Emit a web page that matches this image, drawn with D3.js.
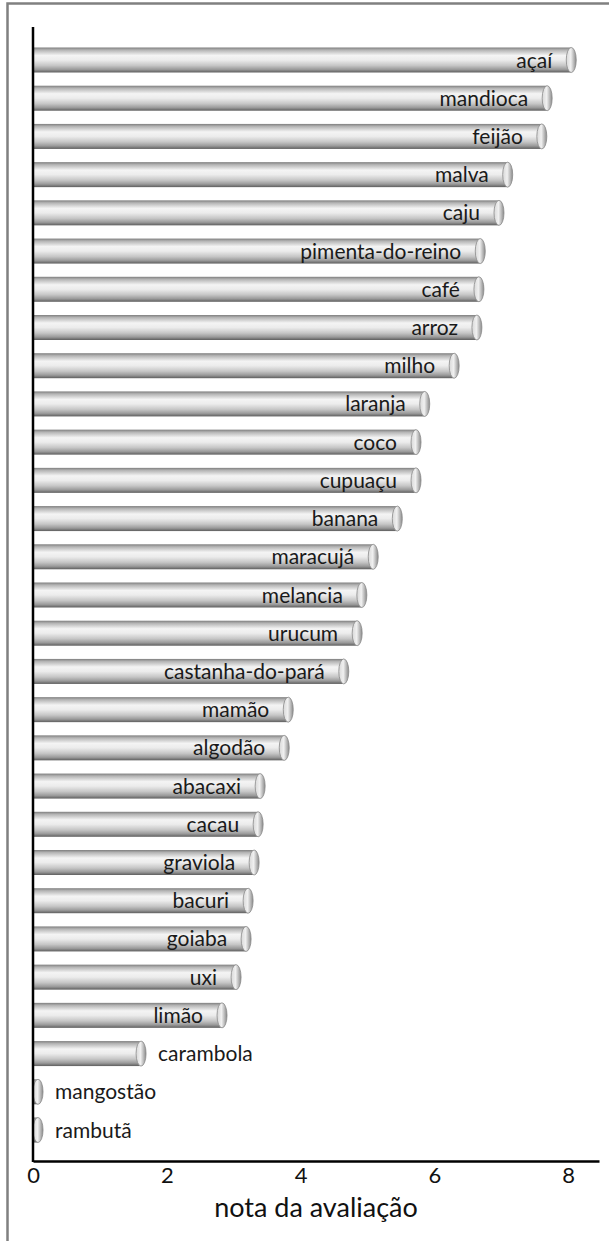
<!DOCTYPE html>
<html>
<head>
<meta charset="utf-8">
<script src="https://cdn.jsdelivr.net/npm/d3@7"></script>
<style>
  body { margin: 0; background: #fff; }
  svg { display: block; }
</style>
</head>
<body>
<div id="chart"></div>
<script>
// Categories, top to bottom
const crops = ["açaí", "mandioca", "feijão", "malva", "caju", "pimenta-do-reino", "café", "arroz",
  "milho", "laranja", "coco", "cupuaçu", "banana", "maracujá", "melancia", "urucum",
  "castanha-do-pará", "mamão", "algodão", "abacaxi", "cacau", "graviola", "bacuri", "goiaba",
  "uxi", "limão", "carambola", "mangostão", "rambutã"];

// Evaluation score for each crop
const scores = [8.12, 7.76, 7.68, 7.17, 7.04, 6.76, 6.74, 6.71,
  6.37, 5.93, 5.80, 5.80, 5.52, 5.16, 4.99, 4.92,
  4.72, 3.89, 3.83, 3.47, 3.44, 3.38, 3.29, 3.26,
  3.11, 2.90, 1.69, 0.15, 0.15];

const xTicks = [0, 2, 4, 6, 8];
const xTitle = "nota da avaliação";

const width = 609, height = 1241;
const font = "Lato, 'Open Sans', sans-serif";

const svg = d3.select("#chart").append("svg")
  .attr("width", width)
  .attr("height", height);

// gradients for the cylinder bars
const defs = svg.append("defs");
const body = defs.append("linearGradient")
  .attr("id", "tube").attr("x1", 0).attr("y1", 0).attr("x2", 0).attr("y2", 1);
[["0%", "#7e7e7e"], ["10%", "#b4b4b4"], ["32%", "#f4f4f4"], ["50%", "#ececec"],
 ["72%", "#c6c6c6"], ["88%", "#9a9a9a"], ["100%", "#5e5e5e"]].forEach(s =>
  body.append("stop").attr("offset", s[0]).attr("stop-color", s[1]));

const cap = defs.append("linearGradient")
  .attr("id", "cap").attr("x1", 0).attr("y1", 0).attr("x2", 1).attr("y2", 0);
[["0%", "#d8d8d8"], ["45%", "#f0f0f0"], ["100%", "#8a8a8a"]].forEach(s =>
  cap.append("stop").attr("offset", s[0]).attr("stop-color", s[1]));

// frame
svg.append("path")
  .attr("d", `M 7.5 ${height} L 7.5 3.5 L ${width} 3.5`)
  .attr("fill", "none")
  .attr("stroke", "#808080")
  .attr("stroke-width", 2.5);

// scales
const x = d3.scaleLinear().domain([0, 8.46]).range([33, 599]);
const y = d3.scaleBand().domain(crops).range([47.5, 1142.5])
  .paddingInner(0.346).paddingOuter(0);

const capRx = 5;
const bars = svg.append("g");

crops.forEach((c, i) => {
  const v = scores[i];
  const y0 = y(c), bh = y.bandwidth();
  const xEnd = x(v);
  const bodyEnd = Math.max(x(0), xEnd - capRx);

  bars.append("rect")
    .attr("x", x(0))
    .attr("y", y0)
    .attr("width", bodyEnd - x(0))
    .attr("height", bh)
    .attr("fill", "url(#tube)");

  bars.append("ellipse")
    .attr("cx", bodyEnd)
    .attr("cy", y0 + bh / 2)
    .attr("rx", capRx)
    .attr("ry", bh / 2)
    .attr("fill", "url(#cap)")
    .attr("stroke", "#8a8a8a")
    .attr("stroke-width", 0.8);

  const inside = v >= 2;
  bars.append("text")
    .attr("x", inside ? xEnd - 24 : xEnd + 12)
    .attr("y", y0 + bh / 2)
    .attr("dy", "0.36em")
    .attr("text-anchor", inside ? "end" : "start")
    .attr("font-family", font)
    .attr("font-size", "21px")
    .attr("fill", "#1a1a1a")
    .text(c);
});

// y axis line
svg.append("line")
  .attr("x1", 33).attr("x2", 33)
  .attr("y1", 27).attr("y2", 1162)
  .attr("stroke", "#000")
  .attr("stroke-width", 2.5);

// x axis
const xAxis = svg.append("g")
  .attr("transform", "translate(0,1161)")
  .call(d3.axisBottom(x).tickValues(xTicks).tickSize(0).tickSizeOuter(0).tickPadding(6));
xAxis.select(".domain").attr("stroke", "#000").attr("stroke-width", 2.5);
xAxis.selectAll("text")
  .attr("font-family", font)
  .attr("font-size", "22px")
  .attr("fill", "#111");

svg.append("text")
  .attr("x", (x.range()[0] + x.range()[1]) / 2)
  .attr("y", 1217)
  .attr("text-anchor", "middle")
  .attr("font-family", font)
  .attr("font-size", "27px")
  .attr("fill", "#111")
  .text(xTitle);
</script>
</body>
</html>
